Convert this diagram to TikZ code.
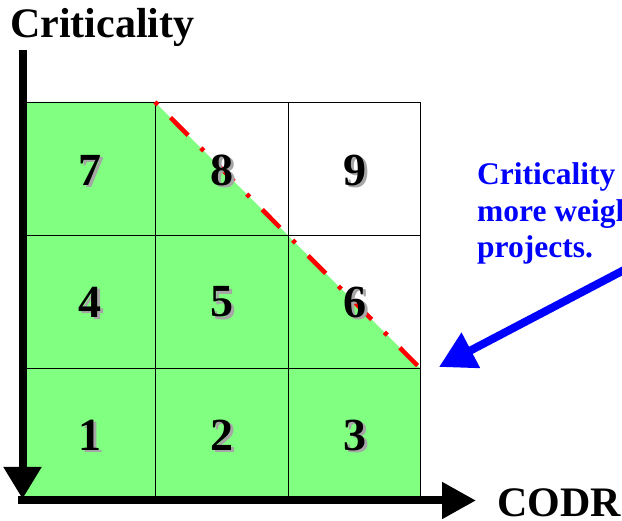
\documentclass[tikz,border=0pt]{standalone}
\usepackage{fontspec}
\setmainfont{Liberation Serif}
\usetikzlibrary{arrows.meta}
\definecolor{lgreen}{HTML}{80FF80}
\definecolor{myblue}{HTML}{0000FF}
\definecolor{myred}{HTML}{FF0000}
\begin{document}
\begin{tikzpicture}[x=1pt,y=-1pt,
  gridline/.style={line width=0.9pt,black},
  axisline/.style={line width=8pt,black},
  num/.style={font=\fontsize{46}{46}\selectfont\bfseries,inner sep=0pt},
  numshadow/.style={num,text=black!35},
  label/.style={font=\fontsize{42}{42}\selectfont\bfseries,inner sep=0pt,anchor=base west},
  note/.style={font=\fontsize{31.5}{31.5}\selectfont\bfseries,text=myblue,inner sep=0pt,anchor=base west},
  boundary/.style={line width=4.5pt,myred,dash pattern=on 4pt off 18pt on 25pt off 18pt},
  pointer/.style={line width=8pt,myblue,-{Triangle[length=36pt,width=38pt]}}]
\useasboundingbox (0,0) rectangle (622,521);
% green region
\fill[lgreen] (22,102) -- (155,102) -- (420,368) -- (420,497) -- (22,497) -- cycle;
% grid
\draw[gridline] (22,102) -- (420,102) -- (420,497);
\draw[gridline] (155,102) -- (155,497);
\draw[gridline] (288,102) -- (288,497);
\draw[gridline] (22,235) -- (420,235);
\draw[gridline] (22,368) -- (420,368);
% boundary
\coordinate (b1) at (155,102);
\coordinate (b2) at (420,368);
\draw[boundary] (b1) -- (b2);
% numbers with shadow
\foreach \n/\x/\y in {7/90/170,8/222/170,9/355/170,4/90/302,5/222/302,6/355/302,1/90/435,2/222/435,3/355/435}{
  \node[numshadow] (s\n) at (\x+2.5,\y+2.5) {\n};
  \node[num] (n\n) at (\x,\y) {\n};
}
% axes
\coordinate (ytop) at (22.5,50);
\coordinate (ybot) at (22.5,499);
\coordinate (xleft) at (18,500.5);
\coordinate (xright) at (476,500.5);
\draw[axisline,-{Triangle[length=32pt,width=36pt]}] (ytop) -- (ybot);
\draw[axisline,-{Triangle[length=34pt,width=35pt]}] (xleft) -- (xright);
% axis labels
\node[label] (ylab) at (10,38) {Criticality};
\node[label] (xlab) at (497,517) {CODR};
% note
\node[note] (note1) at (477,185) {Criticality gives};
\node[note] (note2) at (477,222) {more weight};
\node[note] (note3) at (477,258) {projects.};
\coordinate (pstart) at (626,269);
\coordinate (ptip) at (439,367);
\draw[pointer] (pstart) -- (ptip);
\end{tikzpicture}
\end{document}
